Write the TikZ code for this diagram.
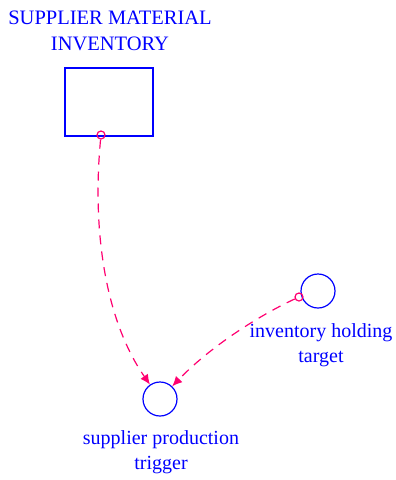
\documentclass[tikz,border=0pt]{standalone}
\usepackage{fontspec}
\setmainfont{Liberation Serif}
\usepackage{tikz}
\usetikzlibrary{arrows.meta}
\definecolor{linkpink}{RGB}{255,0,112}

\begin{document}
\begin{tikzpicture}[x=1pt, y=-1pt,
  lvl/.style={draw=blue, line width=1.4pt, minimum width=88pt, minimum height=68pt, inner sep=0pt},
  aux/.style={circle, draw=blue, line width=1.2pt, minimum size=34pt, inner sep=0pt},
  tail/.style={circle, draw=linkpink, line width=1.2pt, minimum size=8pt, inner sep=0pt},
  lbl/.style={text=blue, align=center, inner sep=0pt, font=\fontsize{20}{24.5}\selectfont},
  link/.style={draw=linkpink, line width=1.2pt, dash pattern=on 9pt off 7pt, -{Latex[length=10pt,width=9pt]}}]
  \useasboundingbox (0,0) rectangle (396,480);
  \node [lbl, font=\fontsize{20.5}{26}\selectfont] (smitxt) at (110,31) {SUPPLIER MATERIAL\\INVENTORY};
  \node [lvl] (smi) at (109,102) {};
  \node [aux] (spt) at (160,399) {};
  \node [lbl] (spttxt) at (161,452) {supplier production\\trigger};
  \node [aux] (iht) at (318,291) {};
  \node [lbl] (ihttxt) at (321,345) {inventory holding\\target};
  \node [tail] (t1) at (101,135) {};
  \node [tail] (t2) at (299,297) {};
  \draw [link] (t1) .. controls (92,230) and (105,320) .. (spt);
  \draw [link] (t2) .. controls (258,316) and (210,347) .. (spt);
\end{tikzpicture}
\end{document}
